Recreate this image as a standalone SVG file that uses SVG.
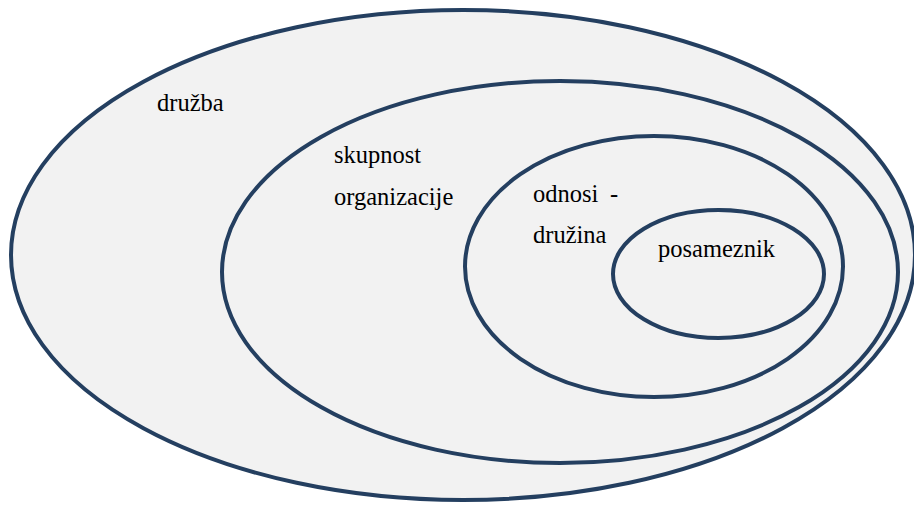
<svg xmlns="http://www.w3.org/2000/svg" width="914" height="505" viewBox="0 0 914 505">
<style>
.ring{fill:#f2f2f2;stroke:#243f60;stroke-width:4}
text{fill:#000}
</style>
<rect width="914" height="505" fill="#ffffff"/>
<g id="druzba">
<ellipse class="ring" cx="463" cy="255" rx="452" ry="245"/>
<text font-family="Liberation Serif, DejaVu Serif, serif" font-size="24.5" x="157" y="111">družba</text>
</g>
<g id="skupnost">
<ellipse class="ring" cx="560" cy="272" rx="338" ry="191"/>
<text font-family="Liberation Serif, DejaVu Serif, serif" font-size="24.5" x="334" y="163">skupnost</text>
<text font-family="Liberation Serif, DejaVu Serif, serif" font-size="24.5" x="334" y="205">organizacije</text>
</g>
<g id="odnosi">
<ellipse class="ring" cx="654" cy="266.5" rx="189" ry="130.5"/>
<text font-family="Liberation Serif, DejaVu Serif, serif" font-size="24.5" x="533" y="202">odnosi<tspan x="610">-</tspan></text>
<text font-family="Liberation Serif, DejaVu Serif, serif" font-size="24.5" x="533" y="243">družina</text>
</g>
<g id="posameznik">
<ellipse class="ring" cx="718.5" cy="274" rx="105.5" ry="64"/>
<text font-family="Liberation Serif, DejaVu Serif, serif" font-size="24.5" x="658" y="257">posameznik</text>
</g>
<g id="connectors"/>
</svg>
